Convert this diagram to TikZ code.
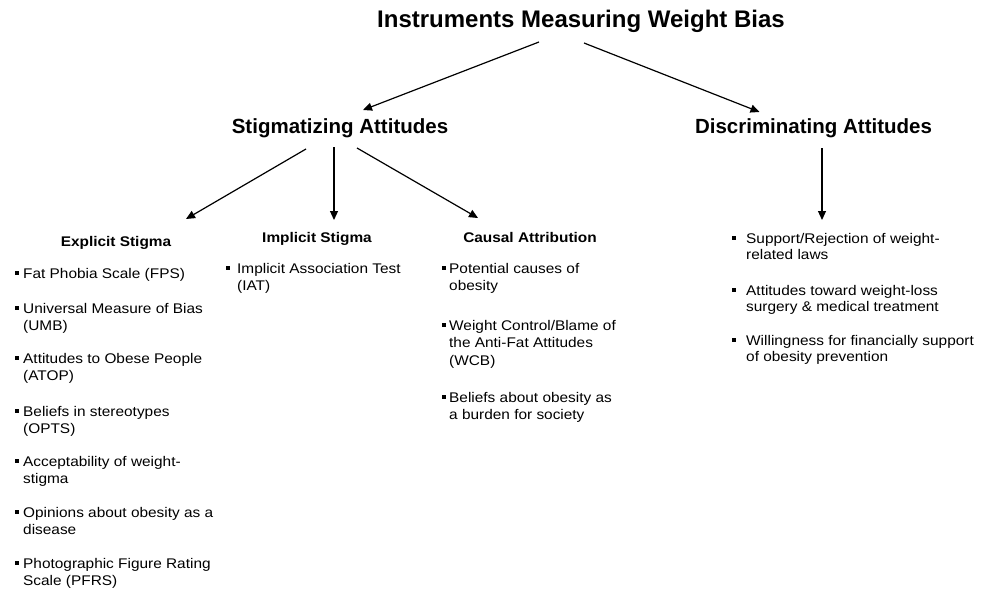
\documentclass[tikz,border=0pt]{standalone}
\usepackage{fontspec}
\setmainfont{Liberation Sans}
\newfontfamily\bodyfont[FakeStretch=1.1]{Liberation Sans}
\usetikzlibrary{arrows.meta,calc}
\newcommand\itm[2]{\llap{\rule[3.3pt]{4pt}{4pt}\hspace{#1}}\begin{tabular}[t]{@{}l@{}}#2\end{tabular}}
\begin{document}
\begin{tikzpicture}[x=1pt,y=-1pt,
  arr/.style={line width=1.2pt,-{Triangle[length=9pt,width=8pt]}},
  ttl/.style={font=\fontsize{24}{28}\selectfont\bfseries,inner sep=0,anchor=base},
  lvl/.style={font=\fontsize{20.5}{24}\selectfont\bfseries,inner sep=0,anchor=base},
  sub/.style={font=\bodyfont\fontsize{14}{17.5}\selectfont\bfseries,inner sep=0,anchor=base},
  item/.style={font=\bodyfont\fontsize{14}{17.5}\selectfont,inner sep=0,anchor=base west},
  ditem/.style={font=\bodyfont\fontsize{14}{16}\selectfont,inner sep=0,anchor=base west}]
\useasboundingbox[fill=white] (0,0) rectangle (982,591);

\node[ttl] (T) at (581,28) {Instruments Measuring Weight Bias};
\node[lvl] (S) at (340,134) {Stigmatizing Attitudes};
\node[lvl] (D) at (813.5,134) {Discriminating Attitudes};
\node[sub] (E) at (116,246) {Explicit Stigma};
\node[sub] (I) at (317,242) {Implicit Stigma};
\node[sub] (C) at (530,242) {Causal Attribution};

% explicit
\node[item] (e1) at (23,278) {\itm{4pt}{Fat Phobia Scale (FPS)}};
\node[item] (e2) at (23,313) {\itm{4pt}{Universal Measure of Bias\\(UMB)}};
\node[item] (e3) at (23,363) {\itm{4pt}{Attitudes to Obese People\\(ATOP)}};
\node[item] (e4) at (23,416) {\itm{4pt}{Beliefs in stereotypes\\(OPTS)}};
\node[item] (e5) at (23,466) {\itm{4pt}{Acceptability of weight-\\stigma}};
\node[item] (e6) at (23,517) {\itm{4pt}{Opinions about obesity as a\\disease}};
\node[item] (e7) at (23,568) {\itm{4pt}{Photographic Figure Rating\\Scale (PFRS)}};

% implicit
\node[item] (i1) at (237,273) {\itm{7pt}{Implicit Association Test\\(IAT)}};

% causal
\node[item] (c1) at (449,273) {\itm{3pt}{Potential causes of\\obesity}};
\node[item] (c2) at (449,330) {\itm{3pt}{Weight Control/Blame of\\the Anti-Fat Attitudes\\(WCB)}};
\node[item] (c3) at (449,402) {\itm{3pt}{Beliefs about obesity as\\a burden for society}};

% discriminating
\node[ditem] (d1) at (746,243) {\itm{10pt}{Support/Rejection of weight-\\related laws}};
\node[ditem] (d2) at (746,295) {\itm{10pt}{Attitudes toward weight-loss\\surgery \& medical treatment}};
\node[ditem] (d3) at (746,345) {\itm{10pt}{Willingness for financially support\\of obesity prevention}};

% arrows
\draw[arr] ($(T.base)+(-42,14)$) -- ($(S.base)+(23,-24)$);
\draw[arr] ($(T.base)+(3,15)$) -- ($(D.base)+(-54,-22)$);
\draw[arr] ($(S.base)+(-34,15)$) -- ($(E.base)+(70,-27)$);
\draw[arr] ($(S.base)+(-6,13)$) -- ($(I.base)+(17,-22)$);
\draw[arr] ($(S.base)+(17,14)$) -- ($(C.base)+(-52,-24)$);
\draw[arr] ($(D.base)+(8.5,14)$) -- ($(d1.base west)+(76,-23)$);
\end{tikzpicture}
\end{document}
